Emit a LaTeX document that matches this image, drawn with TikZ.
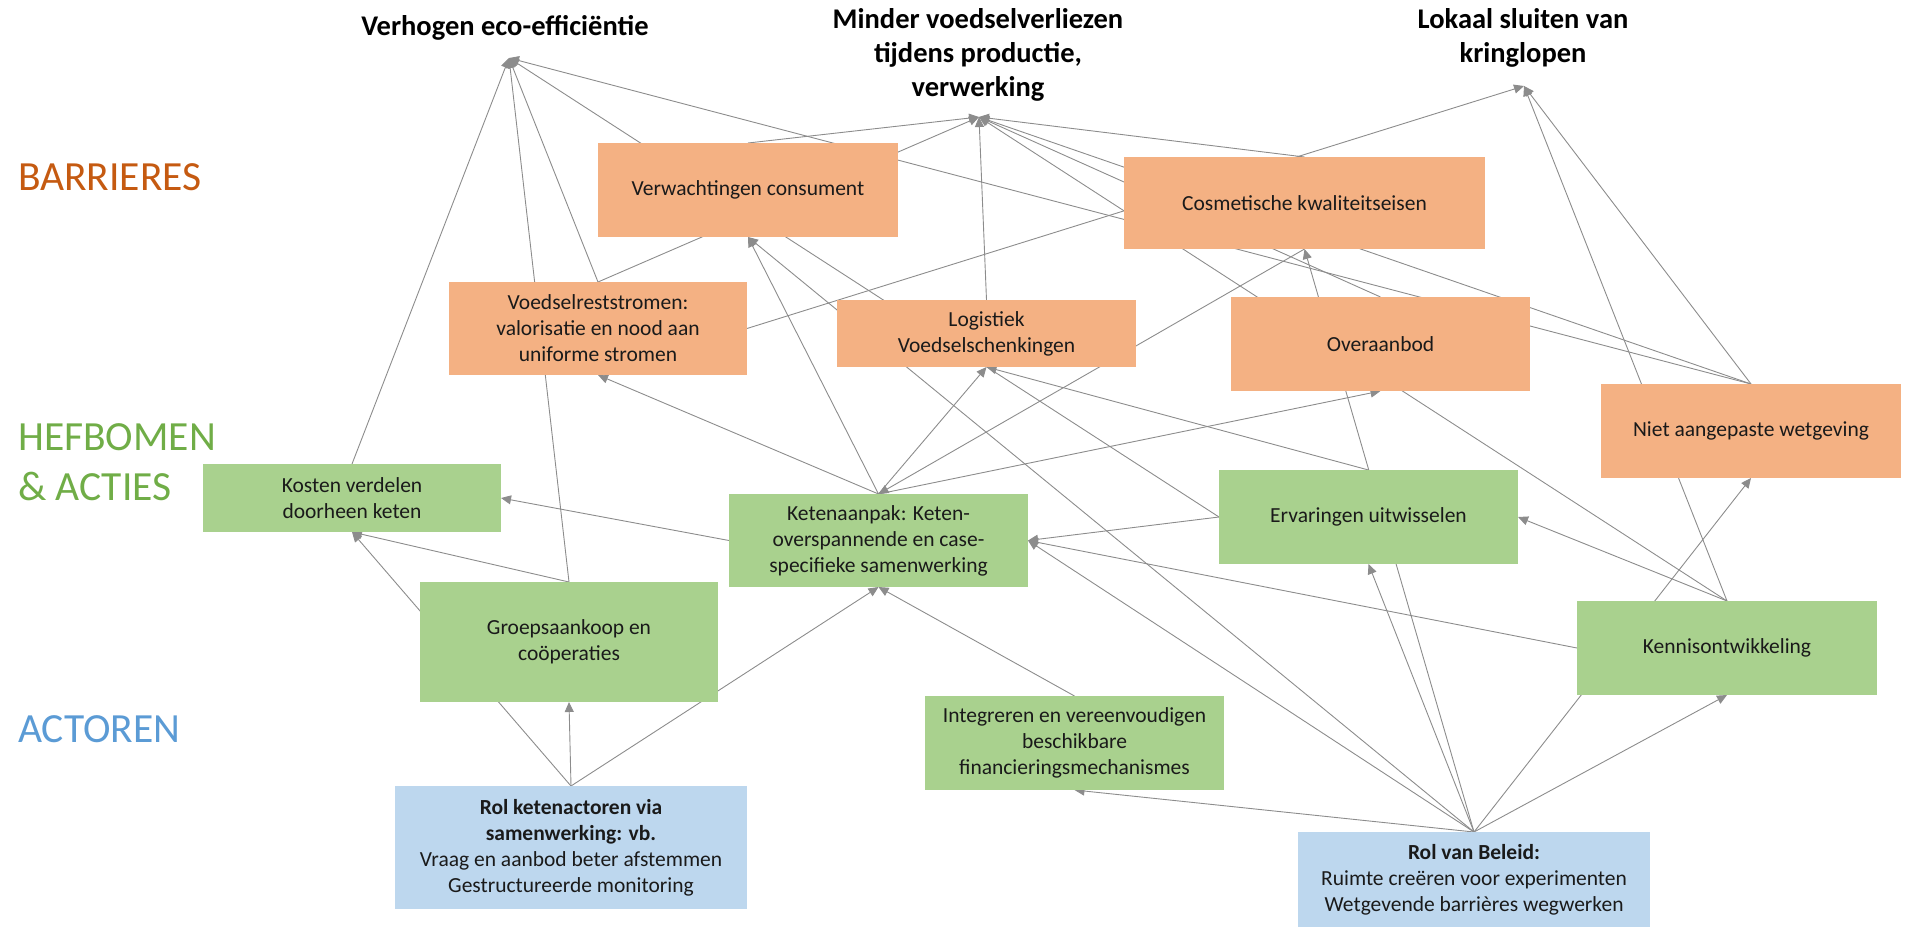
\documentclass[tikz,border=0pt]{standalone}
\usepackage{fontspec}
\setmainfont{Carlito}
\usetikzlibrary{arrows.meta}
\pgfdeclarelayer{background}
\pgfsetlayers{background,main}

\definecolor{barfill}{HTML}{F4B183}
\definecolor{actfill}{HTML}{A9D18E}
\definecolor{rolfill}{HTML}{BDD7EE}
\definecolor{barhead}{HTML}{C55A11}
\definecolor{acthead}{HTML}{70AD47}
\definecolor{rolhead}{HTML}{5B9BD5}
\definecolor{linkgray}{HTML}{8C8C8C}
\definecolor{boxtext}{HTML}{1A1A1A}

\begin{document}
\begin{tikzpicture}[x=1pt,y=-1pt,
  box/.style={rectangle, inner sep=0pt, outer sep=0pt, align=center,
    font=\fontsize{21.5}{26}\selectfont, text=boxtext,
    minimum width=299pt, minimum height=94pt},
  barrier/.style={box, fill=barfill},
  lever/.style={box, fill=actfill},
  actor/.style={box, fill=rolfill},
  goal/.style={align=center, font=\fontsize{28.5}{34}\selectfont\bfseries, inner sep=0pt},
  layer/.style={anchor=base west, inner sep=0pt, font=\fontsize{41.5}{50}\selectfont},
  link/.style={draw=linkgray, line width=0.9pt,
    -{Triangle[length=10pt,width=9pt]}}
]
\useasboundingbox (0,0) rectangle (1905,926);

% row labels
\node[layer, text=barhead] (lbar)  at (18,190) {BARRIERES};
\node[layer, text=acthead] (lhef1) at (18,450) {HEFBOMEN};
\node[layer, text=acthead] (lhef2) at (18,500) {\& ACTIES};
\node[layer, text=rolhead] (lact)  at (18,742) {ACTOREN};

% goals
\node[goal] (ecoeff)  at (505,28) {Verhogen eco-efficiëntie};
\node[goal] (verlies) at (978,55) {Minder voedselverliezen\\tijdens productie,\\verwerking};
\node[goal] (kring)   at (1523,38) {Lokaal sluiten van\\kringlopen};
\coordinate (ecoTip) at (509,58);
\coordinate (verTip) at (979,117);
\coordinate (krTip)  at (1524,86);

% barriers
\node[barrier, minimum width=300pt] (verw) at (748,190) {Verwachtingen consument};
\node[barrier, minimum width=361pt, minimum height=92pt] (cosm) at (1304.5,203) {Cosmetische kwaliteitseisen};
\node[barrier, minimum width=298pt, minimum height=93pt] (voed) at (598,328.5) {Voedselreststromen:\\valorisatie en nood aan\\uniforme stromen};
\node[barrier, minimum height=67pt] (logi) at (986.5,333.5) {Logistiek\\Voedselschenkingen};
\node[barrier] (over) at (1380.5,344) {Overaanbod};
\node[barrier, minimum width=300pt] (niet) at (1751,431) {Niet aangepaste wetgeving};

% levers and actions
\node[lever, minimum width=298pt, minimum height=68pt] (kost) at (352,498) {Kosten verdelen\\doorheen keten};
\node[lever, minimum height=93pt] (kete) at (878.5,540.5) {Ketenaanpak: Keten-\\overspannende en case-\\specifieke samenwerking};
\node[lever] (erva) at (1368.5,517) {Ervaringen uitwisselen};
\node[lever, minimum width=298pt, minimum height=120pt] (groe) at (569,642) {Groepsaankoop en\\coöperaties};
\node[lever, minimum width=300pt] (kenn) at (1727,648) {Kennisontwikkeling};
\node[lever] (inte) at (1074.5,743) {Integreren en vereenvoudigen\\beschikbare\\financieringsmechanismes};

% actors
\node[actor, minimum width=352pt, minimum height=123pt] (rolk) at (571,847.5)
  {\textbf{Rol ketenactoren via}\\\textbf{samenwerking: vb.}\\Vraag en aanbod beter afstemmen\\Gestructureerde monitoring};
\node[actor, minimum width=352pt, minimum height=95pt] (rolb) at (1474,879.5)
  {\textbf{Rol van Beleid:}\\Ruimte creëren voor experimenten\\Wetgevende barrières wegwerken};

\begin{pgfonlayer}{background}
% towards the goals
\draw[link] (kost.north) -- (ecoTip);
\draw[link] (groe.north) -- (ecoTip);
\draw[link] (voed.north) -- (ecoTip);
\draw[link] (erva.west) -- (ecoTip);
\draw[link] (niet.north) -- (ecoTip);
\draw[link] (verw.north) -- (verTip);
\draw[link] (voed.north) -- (verTip);
\draw[link] (logi.north) -- (verTip);
\draw[link] (cosm.north) -- (verTip);
\draw[link] (over.north) -- (verTip);
\draw[link] (kenn.north) -- (verTip);
\draw[link] (niet.north) -- (verTip);
\draw[link] (voed.east) -- (krTip);
\draw[link] (niet.north) -- (krTip);
\draw[link] (kenn.north) -- (krTip);
% towards the barriers
\draw[link] (kete.north) -- (verw.south);
\draw[link] (rolb.north) -- (verw.south);
\draw[link] (kete.north) -- (voed.south);
\draw[link] (kete.north) -- (logi.south);
\draw[link] (erva.north) -- (logi.south);
\draw[link] (cosm.south) -- (kete.north);
\draw[link] (rolb.north) -- (cosm.south);
\draw[link] (kete.north) -- (over.south);
\draw[link] (rolb.north) -- (niet.south);
% among levers and actors
\draw[link] (kete.west) -- (kost.east);
\draw[link] (groe.north) -- (kost.south);
\draw[link] (rolk.north) -- (kost.south);
\draw[link] (rolk.north) -- (groe.south);
\draw[link] (rolk.north) -- (kete.south);
\draw[link] (inte.north) -- (kete.south);
\draw[link] (erva.west) -- (kete.east);
\draw[link] (kenn.west) -- (kete.east);
\draw[link] (rolb.north) -- (kete.east);
\draw[link] (kenn.north) -- (erva.east);
\draw[link] (rolb.north) -- (erva.south);
\draw[link] (rolb.north) -- (inte.south);
\draw[link] (rolb.north) -- (kenn.south);
\end{pgfonlayer}
\end{tikzpicture}
\end{document}
